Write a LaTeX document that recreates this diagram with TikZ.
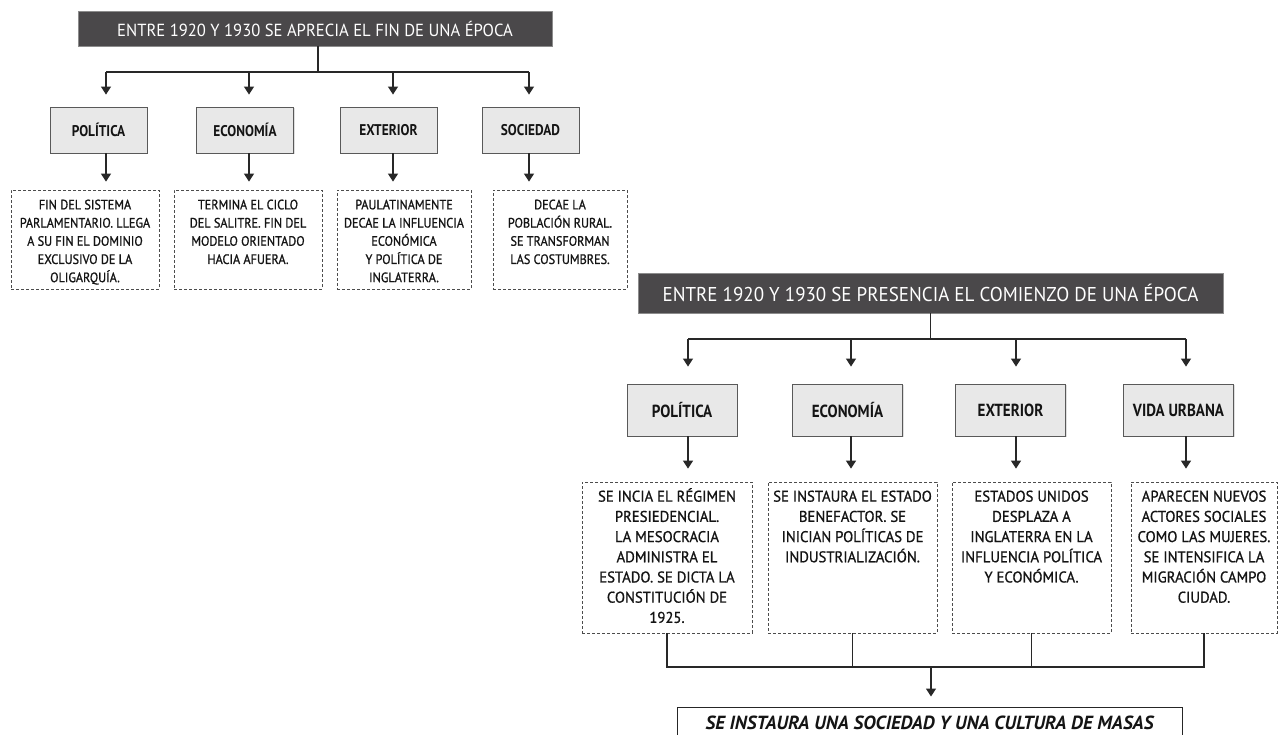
\documentclass[tikz,border=0pt]{standalone}
\usepackage{fontspec}
\setmainfont[FakeStretch=0.86]{PT Sans}
\newfontfamily\hdrfont[FakeStretch=0.95]{PT Sans}
\newfontfamily\topfont[FakeStretch=0.9,FakeBold=0.9]{PT Sans}
\newfontfamily\botfont[FakeStretch=0.95,FakeBold=0.9]{PT Sans}
\newfontfamily\finfont{PT Sans}
\usetikzlibrary{arrows.meta,shadows}
\definecolor{hdrfill}{RGB}{74,72,74}
\definecolor{catfill}{RGB}{232,232,232}
\definecolor{linec}{RGB}{40,40,40}
\definecolor{txt}{RGB}{20,20,20}
\tikzset{
  hdr/.style={fill=hdrfill, draw=black!45, line width=0.8pt, text=white, inner sep=0pt,
    drop shadow={shadow xshift=1pt, shadow yshift=-1pt, opacity=0.25}},
  catbox/.style={fill=catfill, draw=black!65, line width=0.9pt, text=txt, inner sep=0pt,
    drop shadow={shadow xshift=1pt, shadow yshift=-1pt, opacity=0.25}},
  dbox/.style={draw=black!70, dash pattern=on 3pt off 2pt, line width=0.8pt, inner sep=0pt},
  bodytop/.style={align=center, inner sep=0pt, text=txt, anchor=north,
    font=\topfont\fontsize{13.6}{18.2}\selectfont},
  bodybot/.style={align=center, inner sep=0pt, text=txt, anchor=north,
    font=\botfont\fontsize{15.5}{20.2}\selectfont},
  conn/.style={draw=linec, line width=1.2pt},
  arr/.style={conn, -{Triangle[width=10pt,length=8pt]}},
  finbox/.style={draw=black!85, line width=1pt, fill=white, inner sep=0pt, text=txt,
    font=\finfont\fontsize{19}{22}\selectfont\bfseries\itshape}
}
\begin{document}
\begin{tikzpicture}[x=1pt,y=-1pt]
\useasboundingbox (0,0) rectangle (1279,734);
\fill[white] (0,0) rectangle (1279,734);

% ---------- top section ----------
\node[hdr, minimum width=474pt, minimum height=35pt, font=\hdrfont\fontsize{17.5}{20}\selectfont]
  (h1) at (315,28.5) {ENTRE 1920 Y 1930 SE APRECIA EL FIN DE UNA ÉPOCA};

\foreach \n/\x/\t in {pol1/98.5/POLÍTICA, eco1/245/ECONOMÍA, ext1/388.5/EXTERIOR, soc1/530.5/SOCIEDAD}
  \node[catbox, minimum width=97pt, minimum height=46pt, font=\fontsize{15.5}{18}\selectfont\bfseries]
    (\n) at (\x,130) {\t};

\node[dbox, minimum width=148pt, minimum height=99pt] (d1) at (85,239.5) {};
\node[dbox, minimum width=148pt, minimum height=99pt] (d2) at (248,239.5) {};
\node[dbox, minimum width=134pt, minimum height=99pt] (d3) at (404,239.5) {};
\node[dbox, minimum width=134pt, minimum height=99pt] (d4) at (560,239.5) {};

\node[bodytop] (t1) at ([yshift=-6.8pt]d1.north) {\strut FIN DEL SISTEMA\\PARLAMENTARIO. LLEGA\\A SU FIN EL DOMINIO\\EXCLUSIVO DE LA\\OLIGARQUÍA.};
\node[bodytop] (t2) at ([yshift=-6.8pt]d2.north) {\strut TERMINA EL CICLO\\DEL SALITRE. FIN DEL\\MODELO ORIENTADO\\HACIA AFUERA.};
\node[bodytop] (t3) at ([yshift=-6.8pt]d3.north) {\strut PAULATINAMENTE\\DECAE LA INFLUENCIA\\ECONÓMICA\\Y POLÍTICA DE\\INGLATERRA.};
\node[bodytop] (t4) at ([yshift=-6.8pt]d4.north) {\strut DECAE LA\\POBLACIÓN RURAL.\\SE TRANSFORMAN\\LAS COSTUMBRES.};

\coordinate (b1) at (106,72);
\coordinate (b2) at (249,72);
\coordinate (b3) at (393,72);
\coordinate (b4) at (529,72);
\draw[conn] (h1.south -| 318,0) -- (318,72);
\draw[conn] (b1) -- (b4);
\foreach \b/\n/\d in {b1/pol1/d1, b2/eco1/d2, b3/ext1/d3, b4/soc1/d4}{
  \draw[arr, shorten >=12pt] (\b) -- (\b |- \n.north);
  \draw[arr, shorten >=8pt] (\b |- \n.south) -- (\b |- \d.north);
}

% ---------- bottom section ----------
\node[hdr, minimum width=585pt, minimum height=40pt, font=\hdrfont\fontsize{20}{24}\selectfont]
  (h2) at (930.5,293) {ENTRE 1920 Y 1930 SE PRESENCIA EL COMIENZO DE UNA ÉPOCA};

\foreach \n/\x/\t in {pol2/682/POLÍTICA, eco2/847.5/ECONOMÍA, ext2/1010.5/EXTERIOR, vid2/1178.5/VIDA URBANA}
  \node[catbox, minimum width=110pt, minimum height=52pt, font=\fontsize{17.5}{20}\selectfont\bfseries]
    (\n) at (\x,410) {\t};

\node[dbox, minimum width=170pt, minimum height=151pt] (e1) at (667,557.5) {};
\node[dbox, minimum width=169pt, minimum height=151pt] (e2) at (852.5,557.5) {};
\node[dbox, minimum width=159pt, minimum height=151pt] (e3) at (1031.5,557.5) {};
\node[dbox, minimum width=146pt, minimum height=151pt] (e4) at (1204,557.5) {};

\node[bodybot] (u1) at ([yshift=-5.7pt]e1.north) {\strut SE INCIA EL RÉGIMEN\\PRESIEDENCIAL.\\LA MESOCRACIA\\ADMINISTRA EL\\ESTADO. SE DICTA LA\\CONSTITUCIÓN DE\\1925.};
\node[bodybot] (u2) at ([yshift=-5.7pt]e2.north) {\strut SE INSTAURA EL ESTADO\\BENEFACTOR. SE\\INICIAN POLÍTICAS DE\\INDUSTRIALIZACIÓN.};
\node[bodybot] (u3) at ([yshift=-5.7pt]e3.north) {\strut ESTADOS UNIDOS\\DESPLAZA A\\INGLATERRA EN LA\\INFLUENCIA POLÍTICA\\Y ECONÓMICA.};
\node[bodybot] (u4) at ([yshift=-5.7pt]e4.north) {\strut APARECEN NUEVOS\\ACTORES SOCIALES\\COMO LAS MUJERES.\\SE INTENSIFICA LA\\MIGRACIÓN CAMPO\\CIUDAD.};

\coordinate (c1) at (688,339);
\coordinate (c2) at (851,339);
\coordinate (c3) at (1016,339);
\coordinate (c4) at (1186,339);
\draw[conn] (h2.south) -- (h2.south |- c1);
\draw[conn] (c1) -- (c4);
\foreach \c/\n/\e in {c1/pol2/e1, c2/eco2/e2, c3/ext2/e3, c4/vid2/e4}{
  \draw[arr, shorten >=17pt] (\c) -- (\c |- \n.north);
  \draw[arr, shorten >=13pt] (\c |- \n.south) -- (\c |- \e.north);
}

\node[finbox, minimum width=505pt, minimum height=32pt] (fin) at (929.5,723)
  {SE INSTAURA UNA SOCIEDAD Y UNA CULTURA DE MASAS};

\coordinate (k) at (931,667);
\draw[conn] (e1.south) -- (e1.south |- k) -- (e4.south |- k) -- (e4.south);
\draw[conn] (e2.south) -- (e2.south |- k);
\draw[conn] (e3.south) -- (e3.south |- k);
\draw[arr, shorten >=10pt] (k) -- (k |- fin.north);
\end{tikzpicture}
\end{document}
